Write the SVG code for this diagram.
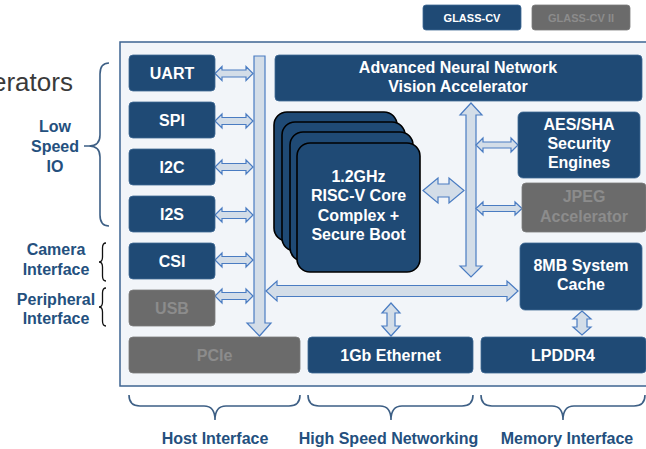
<svg xmlns="http://www.w3.org/2000/svg" width="646" height="449" viewBox="0 0 646 449">
<style>
.box{fill:#1f4a75;stroke:#3f6a96;stroke-width:0.8}
.gbox{fill:#6b6b6b;stroke:#7c7c7c;stroke-width:0.8}
.card{fill:#1f4a75;stroke:#000;stroke-width:1.6}
.t{font-family:"Liberation Sans",Arial,sans-serif;font-weight:bold;font-size:16px;fill:#fff;text-anchor:middle}
.gt{fill:#8c8c8c}
.lbl{font-family:"Liberation Sans",Arial,sans-serif;font-weight:bold;font-size:16px;fill:#24507e;text-anchor:middle}
.arr{fill:#d3dde8;stroke:#4a7cc2;stroke-width:1.2;stroke-linejoin:miter}
.brace{fill:none;stroke:#3d5f85;stroke-width:1.6}
.kbrace{fill:none;stroke:#111;stroke-width:1.3}
</style>
<rect x="0" y="0" width="646" height="449" fill="#fff"/>
<text x="-8" y="91" font-family="'Liberation Sans',Arial,sans-serif" font-size="26" fill="#3a3a3a">erators</text>

<g id="legend">
<g id="legend-glasscv"><rect x="423" y="5" width="98" height="25" rx="3" class="box"/><text x="472" y="21.5" class="t" font-size="11" style="font-size:11px">GLASS-CV</text></g>
<g id="legend-glasscv2"><rect x="532" y="5" width="98" height="25" rx="3" class="gbox"/><text x="581" y="21.5" class="t gt" style="font-size:11px">GLASS-CV II</text></g>
</g>

<g id="container"><rect x="120" y="42" width="540" height="344" fill="#f2f5f9" stroke="#3e6491" stroke-width="1.5"/></g>

<g id="connectors">
<!-- left bus -->
<polygon class="arr" points="254,56 265,56 265,323 271,323 259.5,336 247,323 254,323"/>
<!-- small double arrows left -->
<polygon class="arr" points="215,73.5 222,66.5 222,70 246,70 246,66.5 253,73.5 246,80.5 246,77 222,77 222,80.5"/>
<polygon class="arr" points="215,121 222,114 222,117.5 246,117.5 246,114 253,121 246,128 246,124.5 222,124.5 222,128"/>
<polygon class="arr" points="215,167 222,160 222,163.5 246,163.5 246,160 253,167 246,174 246,170.5 222,170.5 222,174"/>
<polygon class="arr" points="215,215 222,208 222,211.5 246,211.5 246,208 253,215 246,222 246,218.5 222,218.5 222,222"/>
<polygon class="arr" points="215,260 222,253 222,256.5 246,256.5 246,253 253,260 246,267 246,263.5 222,263.5 222,267"/>
<polygon class="arr" points="215,296 222,289 222,292.5 246,292.5 246,289 253,296 246,303 246,299.5 222,299.5 222,303"/>
<!-- central vertical bus -->
<polygon class="arr" points="471,103 482,115 476,115 476,266 482,266 471,277 460,266 466,266 466,115 460,115"/>
<!-- CPU to bus -->
<polygon class="arr" points="423,190.5 438,178 438,184 449,184 449,178 464,190.5 449,203 449,197 438,197 438,203"/>
<!-- bus to AES, JPEG -->
<polygon class="arr" points="476,145 483,138 483,142 511,142 511,138 518,145 511,152 511,148 483,148 483,152"/>
<polygon class="arr" points="476,208.5 483,202 483,205.5 515,205.5 515,202 522,208.5 515,215 515,211.5 483,211.5 483,215"/>
<!-- horizontal bus -->
<polygon class="arr" points="266,291 277,281 277,285.5 507,285.5 507,281 518,291 507,301 507,296.5 277,296.5 277,301"/>
<!-- ethernet -->
<polygon class="arr" points="391,303 400,313 395,313 395,326 400,326 391,336 382,326 387,326 387,313 382,313"/>
<!-- lpddr -->
<polygon class="arr" points="582,311 591,319 587,319 587,327 591,327 582,335 573,327 577,327 577,319 573,319"/>
</g>

<g id="uart"><rect x="129" y="55" width="86" height="36" rx="4" class="box"/><text x="172" y="79" class="t">UART</text></g>
<g id="spi"><rect x="129" y="102" width="86" height="36" rx="4" class="box"/><text x="172" y="126" class="t">SPI</text></g>
<g id="i2c"><rect x="129" y="149" width="86" height="36" rx="4" class="box"/><text x="172" y="173" class="t">I2C</text></g>
<g id="i2s"><rect x="129" y="196" width="86" height="36" rx="4" class="box"/><text x="172" y="220" class="t">I2S</text></g>
<g id="csi"><rect x="129" y="243" width="86" height="36" rx="4" class="box"/><text x="172" y="267" class="t">CSI</text></g>
<g id="usb"><rect x="129" y="290" width="86" height="36" rx="4" class="gbox"/><text x="172" y="314" class="t gt">USB</text></g>
<g id="pcie"><rect x="129" y="337" width="171" height="36" rx="4" class="gbox"/><text x="214.5" y="361" class="t gt">PCIe</text></g>

<g id="nn"><rect x="275" y="55" width="367" height="46" rx="4" class="box"/><text x="458" y="73" class="t">Advanced Neural Network</text><text x="458" y="92" class="t">Vision Accelerator</text></g>

<g id="cpu">
<rect x="274" y="112" width="123" height="129" rx="13" class="card"/>
<rect x="282" y="122" width="123" height="129" rx="13" class="card"/>
<rect x="290" y="132" width="123" height="129" rx="13" class="card"/>
<rect x="297" y="143" width="123" height="129" rx="13" class="card"/>
<text x="358.5" y="182" class="t">1.2GHz</text>
<text x="358.5" y="201" class="t">RISC-V Core</text>
<text x="358.5" y="220.5" class="t">Complex +</text>
<text x="358.5" y="240" class="t">Secure Boot</text>
</g>

<g id="aes"><rect x="518" y="112" width="122" height="66" rx="5" class="box"/><text x="579" y="130" class="t">AES/SHA</text><text x="579" y="149" class="t">Security</text><text x="579" y="168" class="t">Engines</text></g>
<g id="jpeg"><rect x="522" y="183" width="124" height="49" rx="4" class="gbox"/><text x="584" y="202" class="t gt">JPEG</text><text x="584" y="221.5" class="t gt">Accelerator</text></g>
<g id="cache"><rect x="520" y="243" width="122" height="67" rx="5" class="box"/><text x="581" y="271" class="t">8MB System</text><text x="581" y="290" class="t">Cache</text></g>
<g id="ethernet"><rect x="308" y="337" width="165" height="36" rx="4" class="box"/><text x="390.5" y="361" class="t">1Gb Ethernet</text></g>
<g id="lpddr4"><rect x="481" y="337" width="165" height="36" rx="4" class="box"/><text x="563" y="361" class="t">LPDDR4</text></g>

<g id="label-lowspeed">
<path class="brace" d="M109,63 Q100,63 100,74 L100,135 Q100,146 89,146 L84,146 M89,146 Q100,146 100,157 L100,215 Q100,226 109,226"/>
<text x="55" y="132" class="lbl">Low</text><text x="55" y="152" class="lbl">Speed</text><text x="55" y="172" class="lbl">IO</text>
</g>
<g id="label-camera">
<path class="kbrace" d="M106,243 Q102.5,243 102.5,248 L102.5,257 Q102.5,262 99,262 Q102.5,262 102.5,267 L102.5,276 Q102.5,281 106,281"/>
<text x="56" y="255" class="lbl">Camera</text><text x="56" y="275" class="lbl">Interface</text>
</g>
<g id="label-peripheral">
<path class="kbrace" d="M106,288 Q102.5,288 102.5,293 L102.5,302 Q102.5,307 99,307 Q102.5,307 102.5,312 L102.5,321 Q102.5,326 106,326"/>
<text x="56" y="305" class="lbl">Peripheral</text><text x="56" y="324" class="lbl">Interface</text>
</g>
<g id="label-host">
<path class="brace" d="M129,395 Q129,406 140,406 L204,406 Q215,406 215,420 Q215,406 226,406 L289,406 Q300,406 300,395"/>
<text x="215" y="444" class="lbl">Host Interface</text>
</g>
<g id="label-net">
<path class="brace" d="M308,395 Q308,406 319,406 L380,406 Q391,406 391,420 Q391,406 402,406 L462,406 Q473,406 473,395"/>
<text x="388.5" y="444" class="lbl">High Speed Networking</text>
</g>
<g id="label-mem">
<path class="brace" d="M481,395 Q481,406 492,406 L552,406 Q563,406 563,420 Q563,406 574,406 L634,406 Q645,406 645,395"/>
<text x="567" y="444" class="lbl">Memory Interface</text>
</g>
</svg>
